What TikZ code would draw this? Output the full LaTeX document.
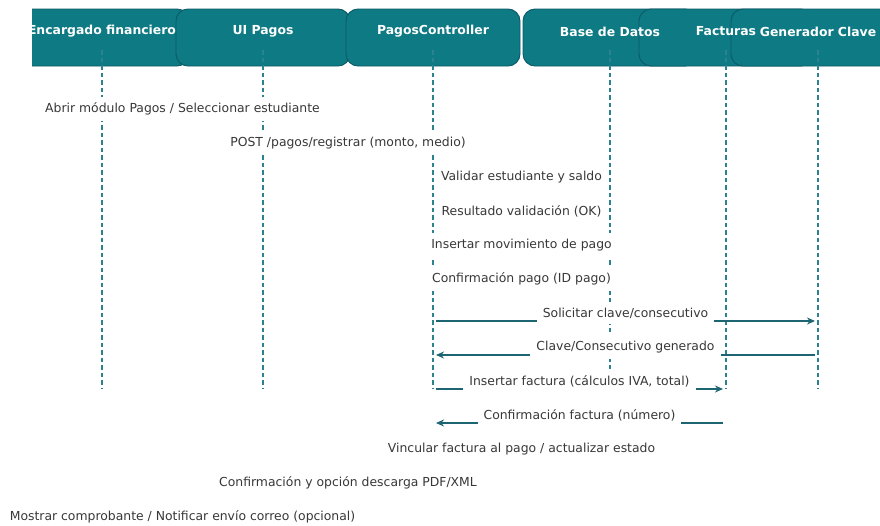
\documentclass[tikz,border=0pt]{standalone}
\usepackage{fontspec}
\setmainfont{DejaVu Sans}
\usetikzlibrary{calc,arrows.meta}

\definecolor{hdrfill}{HTML}{0E7A84}
\definecolor{hdrline}{HTML}{0B5A66}
\definecolor{lifecol}{HTML}{2D8290}
\definecolor{msgcol}{HTML}{1D6573}
\definecolor{txtcol}{HTML}{383838}

\tikzset{
  hdrbox/.style={draw=hdrline, line width=0.9pt, fill=hdrfill, rounded corners=12pt,
    minimum width=174pt, minimum height=57pt, inner sep=0pt},
  hdrtxt/.style={text=white, font=\fontsize{12.4}{14}\selectfont\bfseries, inner sep=0pt},
  lifeline/.style={draw=lifecol, line width=1.1pt, dash pattern=on 4.5pt off 3pt},
  msg/.style={draw=msgcol, line width=1.5pt, shorten >=3pt, shorten <=3pt,
    -{Stealth[length=8pt,width=7pt]}},
  msglbl/.style={fill=white, text=txtcol, font=\fontsize{12.4}{14}\selectfont,
    inner xsep=6pt, inner ysep=6pt, yshift=8pt}
}

\begin{document}
\begin{tikzpicture}[x=1pt, y=-1pt]
\useasboundingbox (0,0) rectangle (880,525);

% participant headers
\begin{scope}
  \clip (32,0) rectangle (880,525);
  \node[hdrbox] (hEnc) at (102,37.5) {};
  \node[hdrbox] (hUI)  at (263,37.5) {};
  \node[hdrbox] (hCtl) at (433,37.5) {};
  \node[hdrbox] (hDB)  at (610,37.5) {};
  \node[hdrbox] (hFac) at (726,37.5) {};
  \node[hdrbox] (hGen) at (818,37.5) {};
  \node[hdrtxt] (tEnc) at (102,31.5) {Encargado financiero};
  \node[hdrtxt] (tUI)  at (263,31.5) {UI Pagos};
  \node[hdrtxt] (tCtl) at (433,31.5) {PagosController};
  \node[hdrtxt] (tDB)  at (610,31.5) {Base de Datos};
  \node[hdrtxt] (tFac) at (726,31.5) {Facturas};
  \node[hdrtxt] (tGen) at (818,31.5) {Generador Clave};
\end{scope}

% lifelines
\coordinate (enc) at (102,50);  \coordinate (encE) at (102,389);
\coordinate (ui)  at (263,50);  \coordinate (uiE)  at (263,389);
\coordinate (ctl) at (433,50);  \coordinate (ctlE) at (433,389);
\coordinate (db)  at (610,50);  \coordinate (dbE)  at (610,389);
\coordinate (fac) at (726,50);  \coordinate (facE) at (726,389);
\coordinate (gen) at (818,50);  \coordinate (genE) at (818,389);
\foreach \a/\b in {enc/encE, ui/uiE, ctl/ctlE, db/dbE, fac/facE, gen/genE}
  \draw[lifeline] (\a) -- (\b);

% message rows
\foreach \i in {1,...,13}
  \coordinate (r\i) at (0,{117+34*(\i-1)});

% message arrows
\draw[msg] (enc|-r1)  -- (ui|-r1);
\draw[msg] (ui|-r2)   -- (ctl|-r2);
\draw[msg] (ctl|-r3)  -- (db|-r3);
\draw[msg] (db|-r4)   -- (ctl|-r4);
\draw[msg] (ctl|-r5)  -- (db|-r5);
\draw[msg] (db|-r6)   -- (ctl|-r6);
\draw[msg] (ctl|-r7)  -- (gen|-r7);
\draw[msg] (gen|-r8)  -- (ctl|-r8);
\draw[msg] (ctl|-r9)  -- (fac|-r9);
\draw[msg] (fac|-r10) -- (ctl|-r10);
\draw[msg] (ctl|-r11) -- (db|-r11);
\draw[msg] (ctl|-r12) -- (ui|-r12);
\draw[msg] (ui|-r13)  -- (enc|-r13);

% message labels
\node[msglbl] (m1)  at ($(enc|-r1)!0.5!(ui|-r1)$)    {Abrir módulo Pagos / Seleccionar estudiante};
\node[msglbl] (m2)  at ($(ui|-r2)!0.5!(ctl|-r2)$)    {POST /pagos/registrar (monto, medio)};
\node[msglbl] (m3)  at ($(ctl|-r3)!0.5!(db|-r3)$)    {Validar estudiante y saldo};
\node[msglbl] (m4)  at ($(ctl|-r4)!0.5!(db|-r4)$)    {Resultado validación (OK)};
\node[msglbl] (m5)  at ($(ctl|-r5)!0.5!(db|-r5)$)    {Insertar movimiento de pago};
\node[msglbl] (m6)  at ($(ctl|-r6)!0.5!(db|-r6)$)    {Confirmación pago (ID pago)};
\node[msglbl] (m7)  at ($(ctl|-r7)!0.5!(gen|-r7)$)   {Solicitar clave/consecutivo};
\node[msglbl] (m8)  at ($(ctl|-r8)!0.5!(gen|-r8)$)   {Clave/Consecutivo generado};
\node[msglbl] (m9)  at ($(ctl|-r9)!0.5!(fac|-r9)$)   {Insertar factura (cálculos IVA, total)};
\node[msglbl] (m10) at ($(ctl|-r10)!0.5!(fac|-r10)$) {Confirmación factura (número)};
\node[msglbl] (m11) at ($(ctl|-r11)!0.5!(db|-r11)$)  {Vincular factura al pago / actualizar estado};
\node[msglbl] (m12) at ($(ui|-r12)!0.5!(ctl|-r12)$)  {Confirmación y opción descarga PDF/XML};
\node[msglbl] (m13) at ($(enc|-r13)!0.5!(ui|-r13)$)  {Mostrar comprobante / Notificar envío correo (opcional)};
\end{tikzpicture}
\end{document}
